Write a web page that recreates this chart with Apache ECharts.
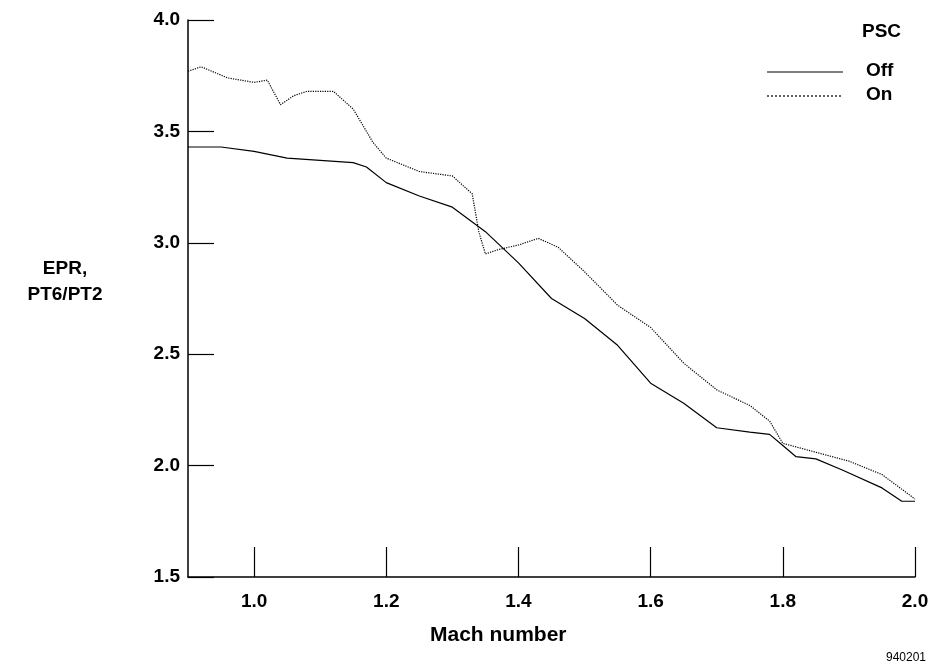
<!DOCTYPE html>
<html><head><meta charset="utf-8">
<script src="https://cdn.jsdelivr.net/npm/echarts@6/dist/echarts.min.js"></script>
<style>html,body{margin:0;padding:0;background:#fff}#c{width:936px;height:669px}</style>
</head><body><div id="c"></div>
<script>
// Mach number vs EPR readings, PSC off / on
const offMach = [0.9,0.95,1.0,1.05,1.1,1.15,1.17,1.2,1.25,1.3,1.35,1.4,1.45,1.5,1.55,1.6,1.65,1.7,1.75,1.78,1.8,1.82,1.85,1.89,1.95,1.98,2.0];
const offEpr  = [3.43,3.43,3.41,3.38,3.37,3.36,3.34,3.27,3.21,3.16,3.05,2.91,2.75,2.66,2.54,2.37,2.28,2.17,2.15,2.14,2.09,2.04,2.03,1.98,1.90,1.84,1.84];
const onMach = [0.9,0.92,0.96,1.0,1.02,1.04,1.06,1.08,1.12,1.15,1.18,1.2,1.25,1.3,1.33,1.34,1.35,1.37,1.4,1.43,1.46,1.5,1.55,1.6,1.65,1.7,1.75,1.78,1.8,1.85,1.9,1.95,2.0];
const onEpr  = [3.77,3.79,3.74,3.72,3.73,3.62,3.66,3.68,3.68,3.60,3.45,3.38,3.32,3.30,3.22,3.05,2.95,2.97,2.99,3.02,2.98,2.87,2.72,2.62,2.46,2.34,2.27,2.20,2.10,2.06,2.02,1.96,1.85];
const xTicks = [1.0,1.2,1.4,1.6,1.8,2.0];

const font = 'Liberation Sans, Arial, sans-serif';
const chart = echarts.init(document.getElementById('c'));
const zip = (a,b) => a.map((v,i)=>[v,b[i]]);
chart.setOption({
  animation:false,
  grid:{left:188,right:21,top:20,bottom:92},
  xAxis:{type:'value',min:0.9,max:2.0,
    axisLine:{lineStyle:{color:'#000',width:1.5}},
    axisTick:{inside:true,length:30,customValues:xTicks,lineStyle:{color:'#000',width:1.2}},
    axisLabel:{customValues:xTicks,formatter:v=>v.toFixed(1),color:'#000',fontFamily:font,fontWeight:'bold',fontSize:19,margin:15},
    splitLine:{show:false}},
  yAxis:{type:'value',min:1.5,max:4.0,interval:0.5,
    axisLine:{show:true,lineStyle:{color:'#000',width:1.5}},
    axisTick:{show:true,inside:true,length:26,lineStyle:{color:'#000',width:1.2}},
    axisLabel:{formatter:v=>v.toFixed(1),color:'#000',fontFamily:font,fontWeight:'bold',fontSize:19,margin:8},
    splitLine:{show:false}},
  series:[
    {name:'Off',type:'line',data:zip(offMach,offEpr),showSymbol:false,symbol:'none',
     lineStyle:{color:'#000',width:1.2}},
    {name:'On',type:'line',data:zip(onMach,onEpr),showSymbol:false,symbol:'none',
     lineStyle:{color:'#000',width:1.2,type:'dotted'}}
  ],
  graphic:[
    {type:'text',x:862,y:22,style:{text:'PSC',font:'bold 19px '+font,fill:'#000'}},
    {type:'line',shape:{x1:767,y1:72,x2:843,y2:72},style:{stroke:'#000',lineWidth:1.2}},
    {type:'line',shape:{x1:767,y1:96,x2:843,y2:96},style:{stroke:'#000',lineWidth:1.2,lineDash:[2,2]}},
    {type:'text',x:866,y:61,style:{text:'Off',font:'bold 19px '+font,fill:'#000'}},
    {type:'text',x:866,y:85,style:{text:'On',font:'bold 19px '+font,fill:'#000'}},
    {type:'text',x:65,y:256,style:{text:'EPR,\nPT6/PT2',font:'bold 19px '+font,fill:'#000',align:'center',lineHeight:26}},
    {type:'text',x:430,y:625,style:{text:'Mach number',font:'bold 21px '+font,fill:'#000'}},
    {type:'text',x:886,y:652,style:{text:'940201',font:'12px '+font,fill:'#000'}}
  ]
});
</script></body></html>
